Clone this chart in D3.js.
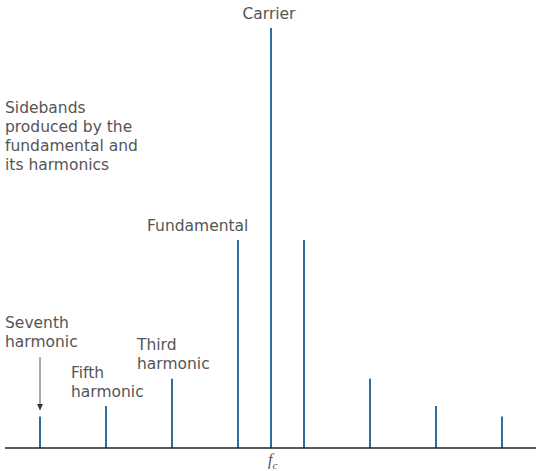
<!DOCTYPE html>
<html>
<head>
<meta charset="utf-8">
<script src="https://cdn.jsdelivr.net/npm/d3@7"></script>
<style>
  body { margin: 0; background: #fff; }
  svg text { font-family: "DejaVu Sans", Verdana, sans-serif; font-size: 15.5px; fill: #555; }
</style>
</head>
<body>
<svg id="chart" width="536" height="471"></svg>
<script>
// sideband order relative to the carrier (0 = carrier)
var orders = [-7, -5, -3, -1, 0, 1, 3, 5, 7];
// relative amplitude of each spectral line
var amplitudes = [0.075, 0.1, 0.165, 0.495, 1, 0.495, 0.165, 0.1, 0.075];

var svg = d3.select('#chart');
var baseY = 448;

var x = d3.scaleLinear().domain([-7, 7]).range([40, 502]);
var y = d3.scaleLinear().domain([0, 1]).range([baseY, 28]);

// spectral lines
svg.selectAll('line.spec').data(orders)
  .enter().append('line')
  .attr('class', 'spec')
  .attr('x1', function(d) { return x(d); })
  .attr('x2', function(d) { return x(d); })
  .attr('y1', baseY)
  .attr('y2', function(d, i) { return y(amplitudes[i]); })
  .style('stroke', '#2f6d9e')
  .style('stroke-width', 2);

// frequency axis
svg.append('line')
  .attr('x1', 5).attr('x2', 536)
  .attr('y1', baseY).attr('y2', baseY)
  .style('stroke', '#222')
  .style('stroke-width', 1.5);

function label(lines, tx, ty, anchor) {
  var t = svg.append('text')
    .attr('x', tx).attr('y', ty)
    .attr('text-anchor', anchor || 'start');
  lines.forEach(function(s, i) {
    t.append('tspan').attr('x', tx).attr('dy', i ? 19 : 0).text(s);
  });
}

label(['Carrier'], x(0) - 2, 19, 'middle');
label(['Sidebands', 'produced by the', 'fundamental and', 'its harmonics'], 5, 113);
label(['Fundamental'], 147, 231);
label(['Seventh', 'harmonic'], 5, 328);
label(['Fifth', 'harmonic'], 71, 378);
label(['Third', 'harmonic'], 137, 350);

// arrow pointing at the seventh harmonic
svg.append('defs').append('marker')
  .attr('id', 'arrow')
  .attr('viewBox', '0 0 10 10')
  .attr('refX', 10).attr('refY', 5)
  .attr('markerWidth', 6).attr('markerHeight', 8)
  .attr('orient', 'auto')
  .append('path')
  .attr('d', 'M0,0L10,5L0,10Z')
  .style('fill', '#333');

svg.append('line')
  .attr('x1', x(-7)).attr('x2', x(-7))
  .attr('y1', 357).attr('y2', 410)
  .style('stroke', '#555')
  .style('stroke-width', 1)
  .attr('marker-end', 'url(#arrow)');

// f_c tick label
var fc = svg.append('text')
  .attr('x', x(0) - 3).attr('y', 465)
  .style('font-style', 'italic')
  .style('font-family', '"Liberation Serif", serif')
  .style('font-size', '16px');
fc.append('tspan').text('f');
fc.append('tspan').attr('dy', 4).style('font-size', '11px').text('c');
</script>
</body>
</html>
